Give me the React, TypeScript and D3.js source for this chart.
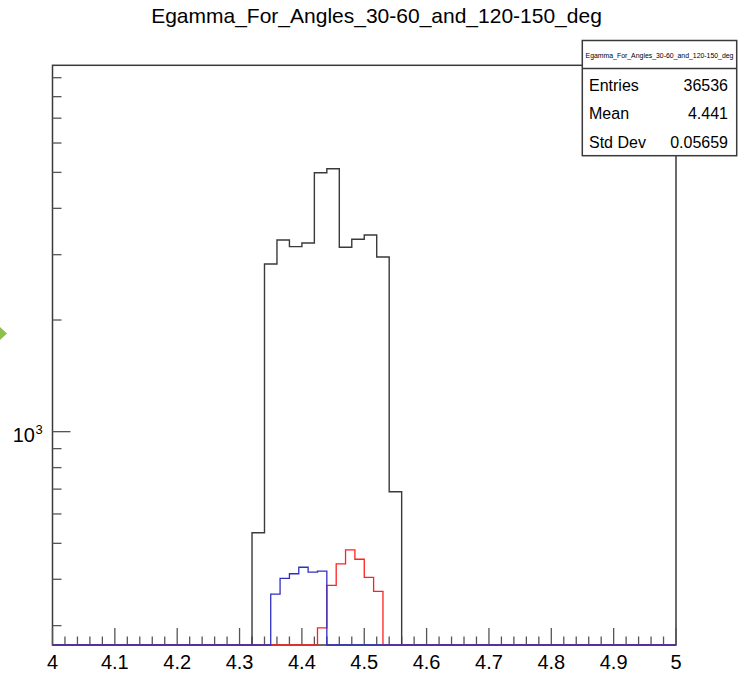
import React from "react";
import * as d3 from "d3";

const title = "Egamma_For_Angles_30-60_and_120-150_deg";
const xTickValues = [4, 4.1, 4.2, 4.3, 4.4, 4.5, 4.6, 4.7, 4.8, 4.9, 5];

const blackEdges = [4.32, 4.34, 4.36, 4.38, 4.4, 4.42, 4.44, 4.46, 4.48, 4.5, 4.52, 4.54, 4.56];
const blackCounts = [534, 2832, 3287, 3153, 3226, 4989, 5115, 3141, 3301, 3389, 2956, 689];

const blueEdges = [4.35, 4.365, 4.38, 4.395, 4.41, 4.425, 4.44];
const blueCounts = [365, 402, 414, 431, 418, 421];

const redEdges = [4.425, 4.44, 4.455, 4.47, 4.485, 4.5, 4.515, 4.53];
const redCounts = [296, 385, 440, 480, 453, 405, 371];

const statLabels = ["Entries", "Mean", "Std Dev"];
const statValues = ["36536", "4.441", "0.05659"];

const yMinorTicks = [300, 400, 500, 600, 700, 800, 900, 2000, 3000, 4000, 5000, 6000, 7000, 8000, 9000];
const yMajorTicks = [1000];

const FONT = "'Liberation Sans', Arial, sans-serif";

export default function App() {
  const L = 52.5, R = 676, T = 65.3, B = 645;
  const x = d3.scaleLinear().domain([4, 5]).range([L, R]);
  const y = d3.scaleLog().domain([266, 9720]).range([B, T]);
  const yc = (v: number) => (v <= 266 ? B : y(v));

  const histPath = (edges: number[], counts: number[]) => {
    const p = d3.path();
    p.moveTo(x(4), B);
    p.lineTo(x(edges[0]), B);
    counts.forEach((c, i) => {
      p.lineTo(x(edges[i]), yc(c));
      p.lineTo(x(edges[i + 1]), yc(c));
    });
    p.lineTo(x(edges[edges.length - 1]), B);
    p.lineTo(x(5), B);
    return p.toString();
  };

  const xMinor = d3.range(0, 51).map((i) => 4 + i * 0.02);

  const boxL = 582.3, boxR = 736.7, boxT = 40.5, boxSep = 68.5, boxB = 155.7;

  return (
    <svg
      width={756}
      height={680}
      style={{ position: "absolute", left: 0, top: 0, background: "#fff" }}
      fontFamily={FONT}
    >
      <rect x={0} y={0} width={756} height={680} fill="#fff" />
      {/* decorative arrow */}
      <polygon points="0,327 7,333.5 0,340" fill="#8dc04b" />

      <text x={376.5} y={23} textAnchor="middle" fontSize={21} fill="#000">
        {title}
      </text>

      {/* frame */}
      <rect x={L} y={T} width={R - L} height={B - T} fill="none" stroke="#3a3a3a" strokeWidth={1.5} />

      {/* y ticks */}
      {yMinorTicks.map((v) => (
        <line key={"ym" + v} x1={L} x2={L + 9} y1={y(v)} y2={y(v)} stroke="#555" strokeWidth={1.3} />
      ))}
      {yMajorTicks.map((v) => (
        <line key={"yM" + v} x1={L} x2={L + 18} y1={y(v)} y2={y(v)} stroke="#555" strokeWidth={1.3} />
      ))}
      {yMajorTicks.map((v) => (
        <text key={"yl" + v} x={35} y={y(v) + 10.5} textAnchor="end" fontSize={20} fill="#000">
          10
        </text>
      ))}
      {yMajorTicks.map((v) => (
        <text key={"ys" + v} x={35.5} y={y(v) + 2} fontSize={13} fill="#000">
          3
        </text>
      ))}

      {/* x ticks */}
      {xMinor.map((v, i) => (
        <line
          key={"xm" + i}
          x1={x(v)}
          x2={x(v)}
          y1={B}
          y2={i % 5 === 0 ? B - 17 : B - 8.5}
          stroke="#555"
          strokeWidth={1.3}
        />
      ))}
      {xTickValues.map((v) => (
        <text key={"xl" + v} x={x(v)} y={669} textAnchor="middle" fontSize={20} fill="#000">
          {d3.format("")(v)}
        </text>
      ))}

      {/* histograms */}
      <path d={histPath(blackEdges, blackCounts)} fill="none" stroke="#3a3a3a" strokeWidth={1.4} />
      <path d={histPath(redEdges, redCounts)} fill="none" stroke="#ff2020" strokeWidth={1.3} />
      <path d={histPath(blueEdges, blueCounts)} fill="none" stroke="#3030c0" strokeWidth={1.3} />

      {/* stats box */}
      <rect x={boxL} y={boxT} width={boxR - boxL} height={boxB - boxT} fill="#fff" stroke="#3a3a3a" strokeWidth={1.5} />
      <line x1={boxL} x2={boxR} y1={boxSep} y2={boxSep} stroke="#3a3a3a" strokeWidth={1.5} />
      <text x={(boxL + boxR) / 2} y={57.5} textAnchor="middle" fontSize={6.9} fill="#000">
        {title}
      </text>
      {statLabels.map((s, i) => (
        <text key={"sl" + i} x={589} y={90.5 + i * 28.6} fontSize={16} fill="#000">
          {s}
        </text>
      ))}
      {statValues.map((s, i) => (
        <text key={"sv" + i} x={728} y={90.5 + i * 28.6} textAnchor="end" fontSize={16} fill="#000">
          {s}
        </text>
      ))}
    </svg>
  );
}
